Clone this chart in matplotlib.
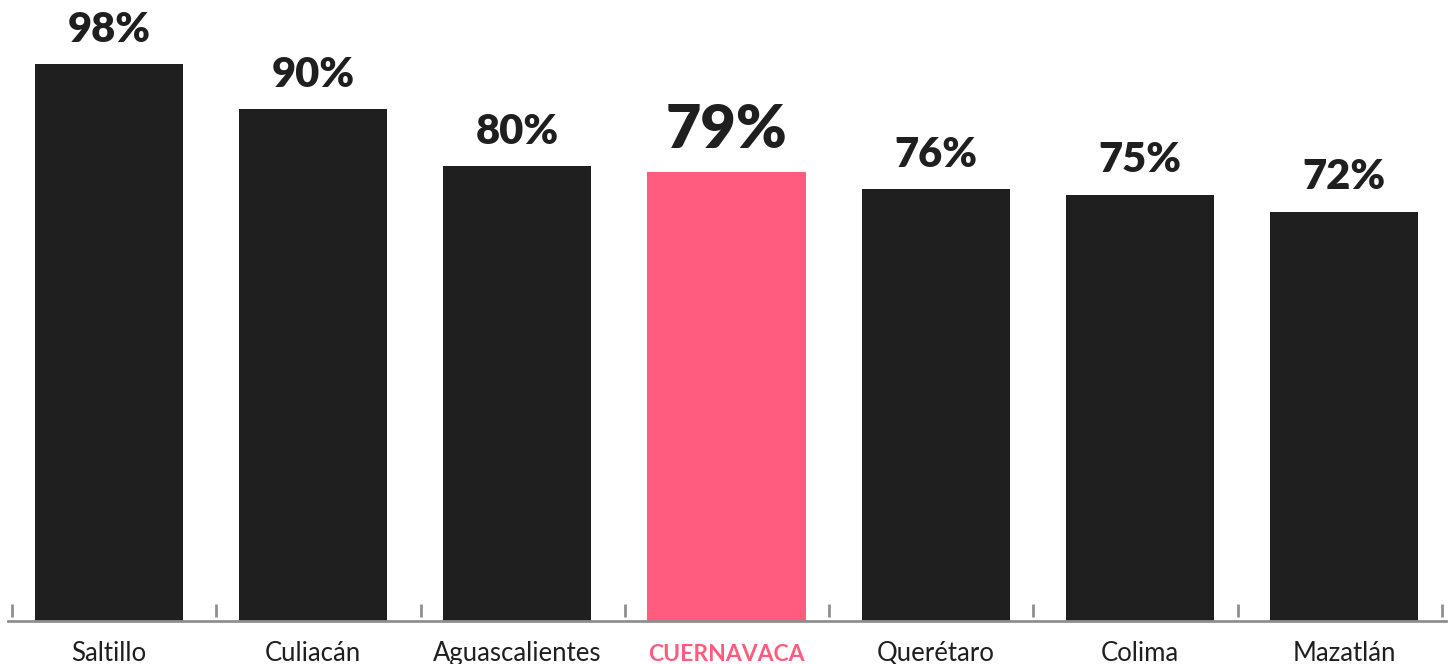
import matplotlib
matplotlib.use("Agg")
import matplotlib.pyplot as plt

ciudades = ["Saltillo", "Culiacán", "Aguascalientes", "CUERNAVACA", "Querétaro", "Colima", "Mazatlán"]
valores = [98, 90, 80, 79, 76, 75, 72]
destacada = "CUERNAVACA"

NEGRO = "#1f1f1f"
ROSA = "#ff5c80"
GRIS = "#8f8f8f"

plt.rcParams["font.family"] = ["Lato", "DejaVu Sans"]

W, H = 1452, 664
fig = plt.figure(figsize=(W / 100, H / 100), dpi=100)
slot = (1442 - 12) / 7  # px per category
ax = fig.add_axes([8 / W, 43 / H, (1446 - 8) / W, 621 / H])
ax.set_xlim(-0.5 - 4 / slot, 6.5 + 4 / slot)
ax.set_ylim(0, 109.25)

# bars: constant gap, highlighted bar a bit wider
w_norm = 148 / slot
w_dest = 159 / slot
gap = 56 / slot
izq = -0.5 + 23 / slot
centros, anchos = [], []
for c in ciudades:
    w = w_dest if c == destacada else w_norm
    centros.append(izq + w / 2)
    anchos.append(w)
    izq += w + gap

colores = [ROSA if c == destacada else NEGRO for c in ciudades]
ax.bar(centros, valores, width=anchos, color=colores, linewidth=0)

for x, v, c in zip(centros, valores, ciudades):
    grande = c == destacada
    ax.annotate(f"{v}%", (x, v), xytext=(0, 10 if grande else 11), textcoords="offset points",
                ha="center", va="bottom", fontsize=44 if grande else 30,
                fontweight="heavy", color=NEGRO)

# category labels, sharing one baseline
for x, c in zip(centros, ciudades):
    grande = c == destacada
    ax.annotate(c, (x, 0), xytext=(0, -28.5), textcoords="offset points",
                ha="center", va="baseline", fontsize=16.5 if grande else 18.5,
                fontweight="bold" if grande else "normal",
                color=ROSA if grande else NEGRO)

# ticks between categories
for i in range(8):
    ax.plot([i - 0.5, i - 0.5], [0.7, 3.0], color=GRIS, lw=2, solid_capstyle="butt")

for s in ["top", "right", "left"]:
    ax.spines[s].set_visible(False)
ax.spines["bottom"].set_color(GRIS)
ax.spines["bottom"].set_linewidth(2)
ax.set_xticks([])
ax.set_yticks([])

fig.savefig("out.png", dpi=100)
